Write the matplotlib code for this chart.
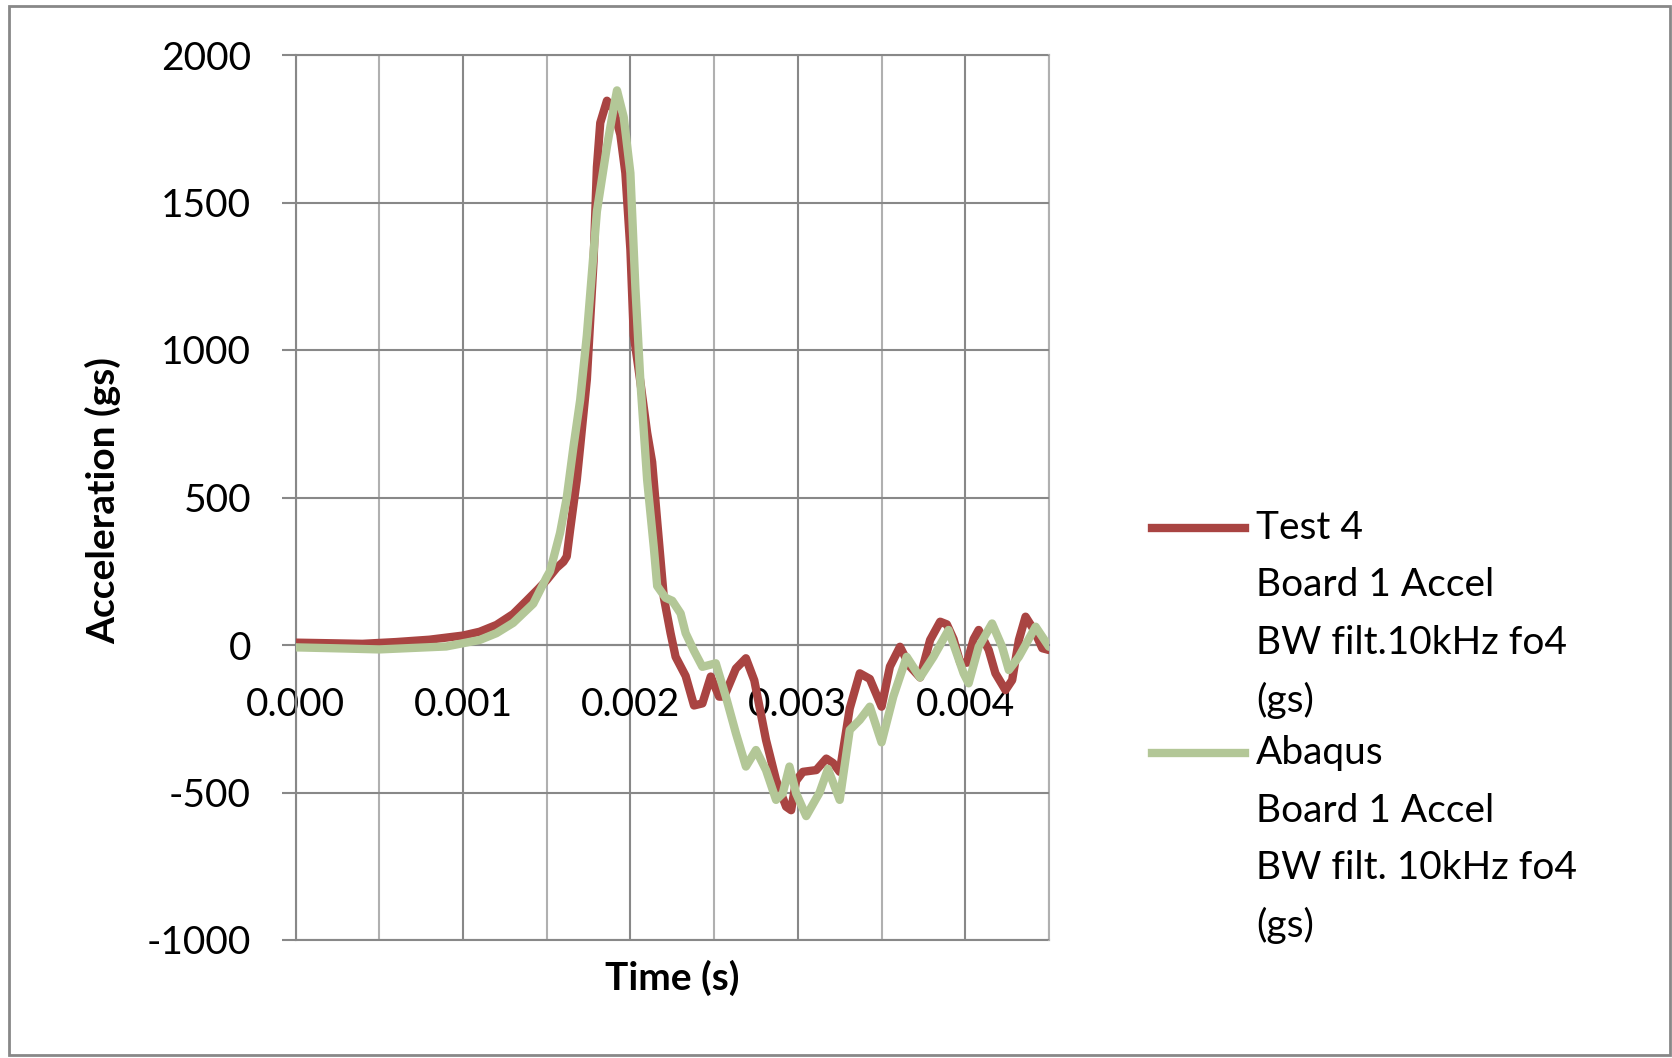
import matplotlib
matplotlib.use('Agg')
import matplotlib.pyplot as plt
from matplotlib.lines import Line2D
from matplotlib.patches import Rectangle

# Test 4, Board 1 Accel (BW filt. 10kHz fo4)
t_test = [0.0, 0.0002, 0.0004, 0.0006, 0.0008, 0.001, 0.0011, 0.0012, 0.0013, 0.00138,
          0.00145, 0.0015, 0.00156, 0.0016, 0.00162, 0.00164, 0.00168, 0.0017, 0.00174, 0.00176,
          0.00178, 0.0018, 0.00182, 0.00186, 0.0019, 0.00194, 0.00197, 0.002, 0.00202, 0.00206,
          0.0021, 0.00213, 0.00216, 0.0022, 0.00224, 0.00227, 0.00233, 0.00238, 0.00243, 0.00248,
          0.00253, 0.00256, 0.00263, 0.00269, 0.00274, 0.00281, 0.00287, 0.00293, 0.00296, 0.00299,
          0.00303, 0.00311, 0.00317, 0.00321, 0.00325, 0.00331, 0.00337, 0.00343, 0.0035, 0.00355,
          0.00361, 0.00367, 0.00373, 0.00379, 0.00385, 0.00389, 0.00393, 0.00397, 0.00401, 0.00405,
          0.00408, 0.00414, 0.00418, 0.00424, 0.00428, 0.00432, 0.00436, 0.00441, 0.00446, 0.0045]
a_test = [8, 6, 4, 10, 18, 32, 45, 68, 105, 150,
          190, 220, 262, 282, 300, 390, 560, 672, 900, 1100,
          1300, 1620, 1770, 1845, 1815, 1730, 1600, 1340, 1050, 890,
          720, 620, 420, 160, 40, -40, -105, -205, -198, -107,
          -175, -175, -80, -45, -120, -322, -458, -548, -560, -460,
          -430, -424, -385, -400, -430, -215, -96, -115, -209, -73,
          -6, -73, -110, 17, 79, 70, 20, -60, -60, 20,
          51, -17, -96, -153, -119, 17, 96, 51, -11, -17]

# Abaqus, Board 1 Accel (BW filt. 10kHz fo4)
t_abq = [0.0, 0.0003, 0.0005, 0.0007, 0.0009, 0.0011, 0.0012, 0.0013, 0.00142, 0.0015,
         0.00152, 0.00158, 0.00162, 0.00166, 0.0017, 0.00174, 0.0018, 0.00186, 0.0019, 0.00192,
         0.00196, 0.002, 0.00203, 0.00206, 0.0021, 0.00214, 0.00216, 0.00221, 0.00225, 0.0023,
         0.00233, 0.00238, 0.00243, 0.00251, 0.00257, 0.00263, 0.00269, 0.00275, 0.00281, 0.00287,
         0.00291, 0.00295, 0.00299, 0.00305, 0.00313, 0.00318, 0.00325, 0.00331, 0.00337, 0.00343,
         0.0035, 0.00357, 0.00365, 0.00373, 0.00381, 0.0039, 0.00399, 0.00402, 0.00408, 0.00416,
         0.00422, 0.00426, 0.00432, 0.00442, 0.0045]
a_abq = [-8, -12, -15, -10, -5, 17, 40, 75, 140, 230,
         250, 380, 500, 672, 830, 1050, 1470, 1690, 1820, 1880,
         1790, 1600, 1210, 890, 560, 330, 200, 160, 150, 107,
         40, -20, -74, -62, -175, -299, -412, -356, -424, -525,
         -503, -412, -503, -580, -500, -420, -525, -288, -254, -209,
         -330, -175, -40, -110, -40, 51, -96, -130, -6, 73,
         -6, -85, -40, 62, -6]

x_ticks = [0.0, 0.001, 0.002, 0.003, 0.004]
x_labels = ['0.000', '0.001', '0.002', '0.003', '0.004']
x_minor = [0.0005, 0.0015, 0.0025, 0.0035, 0.0045]
y_ticks = [-1000, -500, 0, 500, 1000, 1500, 2000]

red = '#A94442'
green = '#B3C797'
grid_dark = '#888888'
grid_light = '#B0B0B0'

plt.rcParams['font.family'] = ['Lato', 'DejaVu Sans']
plt.rcParams['axes.unicode_minus'] = False

W, H = 1672, 1058
fig = plt.figure(figsize=(W / 100, H / 100), dpi=100)
ax = fig.add_axes([295.5 / W, 1 - 940 / H, (1049 - 295.5) / W, (940 - 55) / H])

ax.plot(t_test, a_test, color=red, lw=6, solid_joinstyle='round', solid_capstyle='round', zorder=3)
ax.plot(t_abq, a_abq, color=green, lw=6, solid_joinstyle='round', solid_capstyle='round', zorder=4)

ax.set_xlim(0, 0.0045)
ax.set_ylim(-1000, 2000)
ax.set_xticks(x_ticks)
ax.set_xticklabels(x_labels)
ax.set_xticks(x_minor, minor=True)
ax.set_yticks(y_ticks)

ax.xaxis.grid(True, which='major', color=grid_dark, lw=1.5)
ax.xaxis.grid(True, which='minor', color=grid_light, lw=1.5)
ax.yaxis.grid(True, color=grid_dark, lw=1.5)
ax.set_axisbelow(True)

ax.spines['bottom'].set_position(('data', 0))
ax.spines['bottom'].set_color(grid_dark)
ax.spines['bottom'].set_linewidth(1.5)
ax.spines['left'].set_color(grid_dark)
ax.spines['left'].set_linewidth(1.5)
ax.spines['top'].set_visible(False)
ax.spines['right'].set_visible(False)
ax.axhline(-1000, color=grid_dark, lw=1.5, clip_on=False, zorder=0.5)
ax.axhline(2000, color=grid_dark, lw=1.5, clip_on=False, zorder=0.5)
ax.axvline(0.0045, color=grid_light, lw=1.5, clip_on=False, zorder=0.5)

ax.tick_params(axis='x', which='both', length=0, pad=30, labelsize=28)
ax.tick_params(axis='y', direction='out', length=10, width=1.5, color=grid_dark, pad=22, labelsize=28)

fig.text(672 / W, 1 - 978 / H, 'Time (s)', ha='center', va='center', fontsize=28, fontweight='bold')
fig.text(103 / W, 1 - 500 / H, 'Acceleration (gs)', ha='center', va='center', rotation=90,
         fontsize=28, fontweight='bold')

# legend drawn by hand so the line sits beside the first text line
entries = [
    (red, 528, ['Test 4', 'Board 1 Accel', 'BW filt.10kHz fo4', '(gs)']),
    (green, 753, ['Abaqus', 'Board 1 Accel', 'BW filt. 10kHz fo4', '(gs)']),
]
step = 57.5
for col, y0, lines in entries:
    fig.add_artist(Line2D([1152 / W, 1245 / W], [1 - y0 / H, 1 - y0 / H], color=col, lw=6,
                          transform=fig.transFigure))
    for i, s in enumerate(lines):
        fig.text(1256 / W, 1 - (y0 + i * step) / H, s, ha='left', va='center', fontsize=28)

fig.add_artist(Rectangle((9 / W, 3 / H), 1661 / W, 1049 / H, transform=fig.transFigure,
                         fill=False, edgecolor=grid_dark, lw=2))

fig.savefig('out.png', dpi=100)
